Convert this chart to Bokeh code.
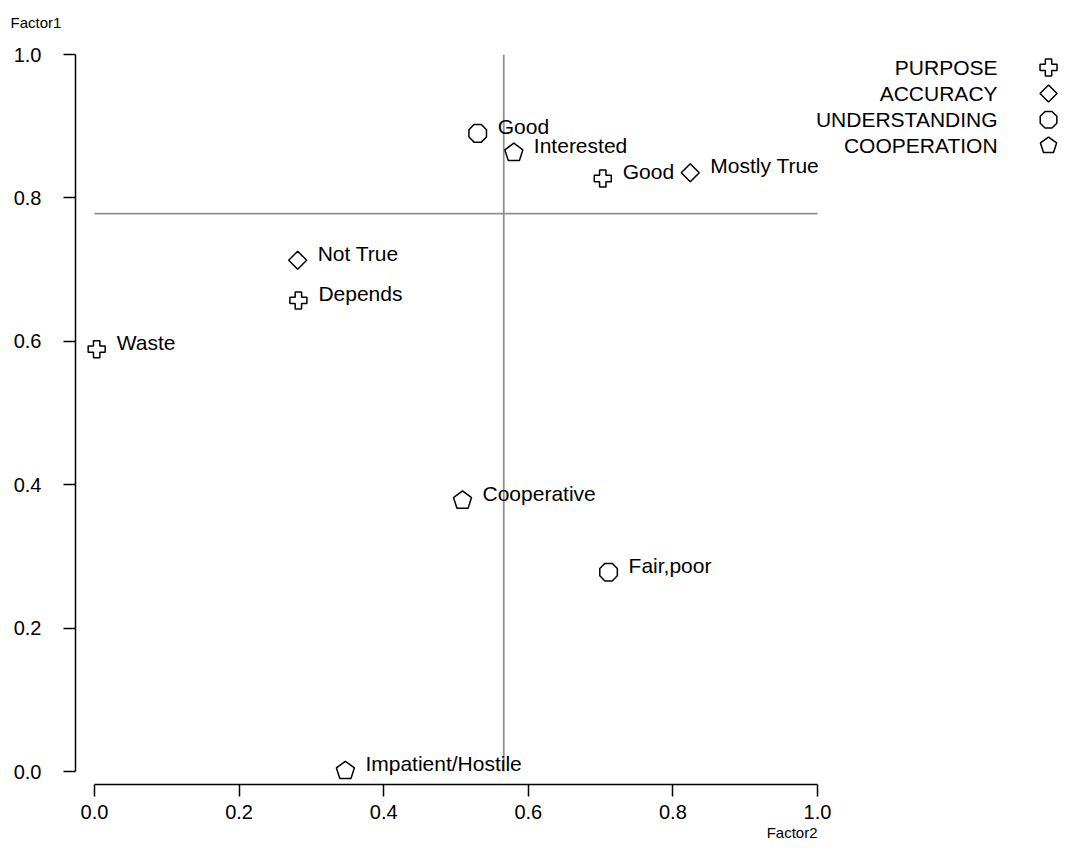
import math
from bokeh.plotting import figure
from bokeh.models import Range1d, FixedTicker, PrintfTickFormatter, Title, ColumnDataSource
from bokeh.core.properties import value
from bokeh.embed import file_html
from bokeh.resources import INLINE

# ---- data ----
series = ["PURPOSE", "ACCURACY", "UNDERSTANDING", "COOPERATION"]

purpose_labels = ["Waste", "Depends", "Good"]
purpose_x = [0.003, 0.282, 0.703]
purpose_y = [0.589, 0.657, 0.827]

accuracy_labels = ["Not True", "Mostly True"]
accuracy_x = [0.281, 0.824]
accuracy_y = [0.713, 0.835]

understanding_labels = ["Good", "Fair,poor"]
understanding_x = [0.530, 0.711]
understanding_y = [0.890, 0.278]

cooperation_labels = ["Interested", "Cooperative", "Impatient/Hostile"]
cooperation_x = [0.580, 0.509, 0.347]
cooperation_y = [0.863, 0.378, 0.001]

ref_x = 0.566   # vertical reference line (Factor2)
ref_y = 0.778   # horizontal reference line (Factor1)
ticks = [0.0, 0.2, 0.4, 0.6, 0.8, 1.0]

FONT = "Liberation Sans"

p = figure(frame_width=983, frame_height=730,
           x_range=Range1d(-0.02628, 1.3333), y_range=Range1d(-0.01813, 1.0),
           output_backend="svg", toolbar_location=None,
           min_border_left=75, min_border_right=0, min_border_top=54, min_border_bottom=64)
p.grid.visible = False
p.outline_line_color = None
p.background_fill_color = "white"
p.border_fill_color = "white"

for ax in (p.xaxis[0], p.yaxis[0]):
    ax.ticker = FixedTicker(ticks=ticks)
    ax.formatter = PrintfTickFormatter(format="%.1f")
    ax.bounds = (0, 1)
    ax.axis_line_color = "black"
    ax.axis_line_width = 1.5
    ax.major_tick_line_color = "black"
    ax.major_tick_line_width = 1.5
    ax.major_tick_in = 0
    ax.major_tick_out = 12
    ax.minor_tick_line_color = None
    ax.major_label_text_font = FONT
    ax.major_label_text_font_size = "20px"
    ax.major_label_text_color = "black"
p.yaxis[0].major_label_standoff = 22
p.xaxis[0].major_label_standoff = 8

# axis titles
p.add_layout(Title(text="Factor1\n ", align="left", offset=-65, standoff=14,
                   text_font=FONT, text_font_size="15px", text_font_style="normal",
                   text_color="black"), "above")
p.add_layout(Title(text="Factor2", align="right", offset=241, standoff=0,
                   text_font=FONT, text_font_size="15px", text_font_style="normal",
                   text_color="black"), "below")

# reference lines
p.segment(x0=[0, ref_x], y0=[ref_y, 0], x1=[1, ref_x], y1=[ref_y, 1],
          line_color="#8f8f8f", line_width=1.8)

LW = 1.5

def ngon(xs, ys, n, angle, r):
    p.ngon(x=xs, y=ys, radius=r, radius_units="screen", n=n, angle=angle,
           fill_color="white", line_color="black", line_width=LW)

# markers
p.scatter(x=purpose_x, y=purpose_y, marker="plus", size=17,
          fill_color="white", line_color="black", line_width=LW)
ngon(accuracy_x, accuracy_y, 4, 0.0, 9)
ngon(understanding_x, understanding_y, 8, math.pi / 8, 9.5)
ngon(cooperation_x, cooperation_y, 5, 0.0, 9.5)

# point labels
all_x = purpose_x + accuracy_x + understanding_x + cooperation_x
all_y = purpose_y + accuracy_y + understanding_y + cooperation_y
all_t = purpose_labels + accuracy_labels + understanding_labels + cooperation_labels
src = ColumnDataSource(dict(x=all_x, y=all_y, t=all_t))
p.text(x="x", y="y", text="t", source=src, x_offset=20, y_offset=-7,
       text_font=value(FONT), text_font_size="21px", text_color="black",
       text_align="left", text_baseline="middle")

# legend (manual, label then symbol)
leg_text_x = 1.249
leg_mark_x = 1.3195
leg_y = [0.982, 0.9456, 0.909, 0.873]
p.text(x=[leg_text_x] * 4, y=leg_y, text=series,
       text_font=value(FONT), text_font_size="21px", text_color="black",
       text_align="right", text_baseline="middle")
p.scatter(x=[leg_mark_x], y=[leg_y[0]], marker="plus", size=17,
          fill_color="white", line_color="black", line_width=LW)
ngon([leg_mark_x], [leg_y[1]], 4, 0.0, 8.5)
ngon([leg_mark_x], [leg_y[2]], 8, math.pi / 8, 9)
ngon([leg_mark_x], [leg_y[3]], 5, 0.0, 8.5)

open("out.html", "w").write(file_html(p, INLINE))
